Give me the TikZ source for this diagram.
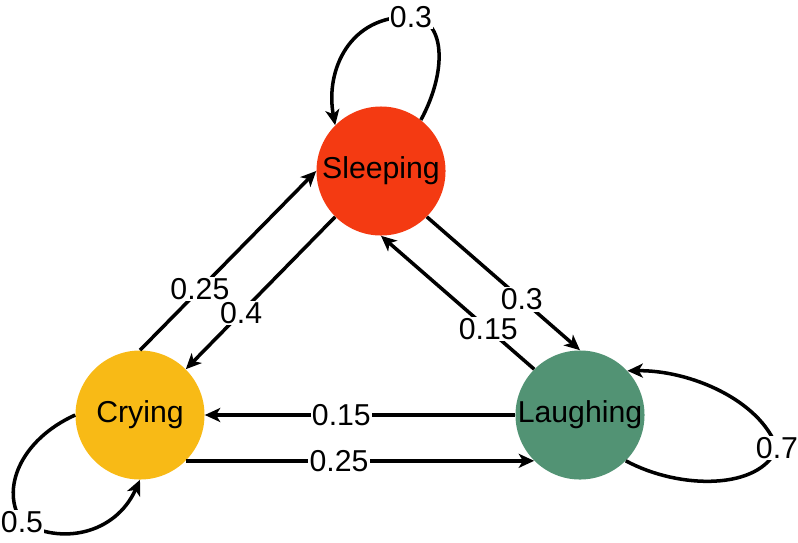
\documentclass[tikz,border=0pt]{standalone}
\usepackage{fontspec}
\setmainfont{Liberation Sans}
\usetikzlibrary{arrows.meta}
\definecolor{sleepred}{RGB}{244,58,18}
\definecolor{cryyellow}{RGB}{248,186,22}
\definecolor{laughgreen}{RGB}{82,147,116}
\tikzset{
	state/.style={circle, minimum size=3.225cm, inner sep=0pt, font=\fontsize{21.5}{25}\selectfont},
	edge/.style={line width=2.5pt, -{Stealth[length=11pt, width=10pt, inset=3pt]}},
	lbl/.style={fill=white, inner sep=1pt, font=\fontsize{21.5}{25}\selectfont}
}
\begin{document}
\begin{tikzpicture}[x=0.025cm, y=-0.025cm]
	\useasboundingbox (0,0) rectangle (798,542);
	\node[state, fill=sleepred] (Sleeping) at (381,171) {Sleeping};
	\node[state, fill=cryyellow] (Crying) at (140,415) {Crying};
	\node[state, fill=laughgreen] (Laughing) at (580,415) {Laughing};
	
	\def\list {Crying.north/Sleeping.west/0.34/0.25, Sleeping.225/Crying.45/0.63/0.4, Sleeping.315/Laughing.north/0.62/0.3, Laughing.135/Sleeping.south/0.30/0.15, Laughing.west/Crying.east/0.56/0.15, Crying.315/Laughing.225/0.44/0.25}  % list elements
	\foreach \u\v\p\w in \list
	{	\draw[edge] (\u) -- (\v) node [lbl, pos=\p] {\w};
	}
	% self loops
	\draw[edge] (Sleeping.52) .. controls (448,70) and (445,18) .. (411,17) node[lbl] {0.3} .. controls (350,15) and (325,70) .. (Sleeping.135);
	\draw[edge] (Crying.west) .. controls (20,440) and (0,490) .. (22,522) node[lbl] {0.5} .. controls (60,545) and (115,535) .. (Crying.south);
	\draw[edge] (Laughing.315) .. controls (680,490) and (760,490) .. (777,448) node[lbl] {0.7} .. controls (760,400) and (690,370) .. (Laughing.43);
\end{tikzpicture}
\end{document}
